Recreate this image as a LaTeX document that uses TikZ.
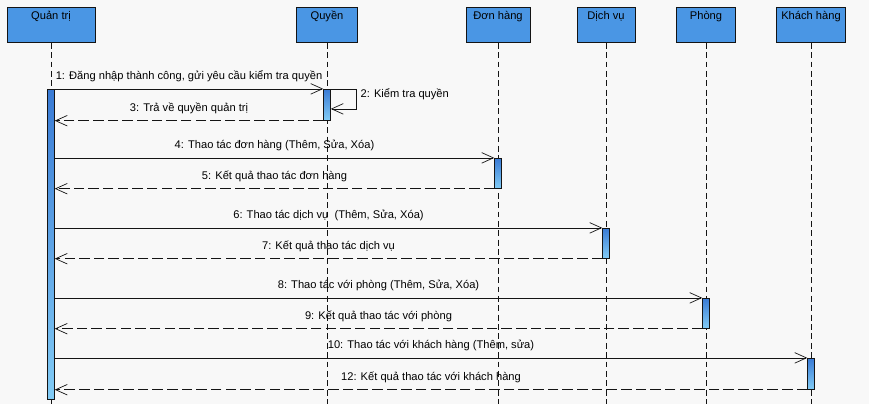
\documentclass[tikz,border=0pt]{standalone}
\usepackage{fontspec}
\setmainfont{Liberation Sans}
\usetikzlibrary{arrows.meta,positioning}

\definecolor{bgcol}{HTML}{F8F8F8}
\definecolor{headcol}{HTML}{4A96E4}
\definecolor{acttop}{HTML}{3A7BD5}
\definecolor{actbot}{HTML}{82CCF6}
\definecolor{linecol}{HTML}{141414}

\begin{document}
\begin{tikzpicture}[
    x=0.03cm, y=-0.03cm,
    font=\fontsize{9.5}{11}\selectfont,
    head/.style={rectangle, draw=linecol, line width=0.75pt, fill=headcol, minimum height=1.05cm, anchor=north, inner sep=0pt},
    headtxt/.style={anchor=north, inner sep=3.5pt},
    act/.style={rectangle, draw=linecol, line width=0.7pt, top color=acttop, bottom color=actbot, minimum width=0.2cm, minimum height=0.9cm, inner sep=0pt},
    life/.style={draw=linecol, line width=0.7pt, dash pattern=on 5pt off 3pt},
    msg/.style={draw=linecol, line width=0.6pt, -{Straight Barb[length=10pt, width=9pt]}},
    ret/.style={msg, dash pattern=on 9pt off 3.5pt},
    lbl/.style={midway, anchor=base, yshift=8pt, inner sep=0pt}
]
    % background and page size
    \fill[bgcol] (0,0) rectangle (869,404);
    \useasboundingbox (0,0) rectangle (869,404);
    \coordinate (bot) at (0,404);

    % lifeline heads
    \node[head, minimum width=2.64cm, label={[headtxt]north:Quản trị}] (qt) at (51,7) {};
    \node[head, minimum width=1.83cm, label={[headtxt]north:Quyền}] (quyen) at (327,7) {};
    \node[head, minimum width=1.92cm, label={[headtxt]north:Đơn hàng}] (donhang) at (498,7) {};
    \node[head, minimum width=1.74cm, label={[headtxt]north:Dịch vụ}] (dichvu) at (606,7) {};
    \node[head, minimum width=1.77cm, label={[headtxt]north:Phòng}] (phong) at (706,7) {};
    \node[head, minimum width=2.07cm, label={[headtxt]north:Khách hàng}] (khach) at (811,7) {};

    % lifelines
    \foreach \h in {qt, quyen, donhang, dichvu, phong, khach}
        \draw[life] (\h.south) -- (\h.south |- bot);

    % activation bars
    \node[act, minimum height=9.3cm, below=1.38cm of qt] (qtact) {};
    \node[act, minimum height=0.93cm, below=1.38cm of quyen] (quyenact) {};
    \node[act, below=3.45cm of donhang] (donhangact) {};
    \node[act, below=5.55cm of dichvu] (dichvuact) {};
    \node[act, below=7.65cm of phong] (phongact) {};
    \node[act, minimum height=0.93cm, below=9.45cm of khach] (khachact) {};

    % messages
    \draw[msg] (qtact.north east) -- (quyenact.north west)
        node[lbl] {1: Đăng nhập thành công, gửi yêu cầu kiểm tra quyền};
    \draw[msg] (quyenact.north east) -- ++(26,0) -- ++(0,20)
        node[pos=0.43, anchor=base west, xshift=3pt, inner sep=0pt] {2: Kiểm tra quyền} -- ++(-26,0);
    \draw[ret] (quyenact.south west) -- (qtact.east |- quyenact.south west)
        node[lbl] {3: Trả về quyền quản trị};

    \draw[msg] (qtact.east |- donhangact.north west) -- (donhangact.north west)
        node[lbl] {4: Thao tác đơn hàng (Thêm, Sửa, Xóa)};
    \draw[ret] (donhangact.south west) -- (qtact.east |- donhangact.south west)
        node[lbl] {5: Kết quả thao tác đơn hàng};

    \draw[msg] (qtact.east |- dichvuact.north west) -- (dichvuact.north west)
        node[lbl] {6: Thao tác dịch vụ\ \ (Thêm, Sửa, Xóa)};
    \draw[ret] (dichvuact.south west) -- (qtact.east |- dichvuact.south west)
        node[lbl] {7: Kết quả thao tác dịch vụ};

    \draw[msg] (qtact.east |- phongact.north west) -- (phongact.north west)
        node[lbl] {8: Thao tác với phòng (Thêm, Sửa, Xóa)};
    \draw[ret] (phongact.south west) -- (qtact.east |- phongact.south west)
        node[lbl] {9: Kết quả thao tác với phòng};

    \draw[msg] (qtact.east |- khachact.north west) -- (khachact.north west)
        node[lbl] {10: Thao tác với khách hàng (Thêm, sửa)};
    \draw[ret] (khachact.south west) -- (qtact.east |- khachact.south west)
        node[lbl] {12: Kết quả thao tác với khách hàng};
\end{tikzpicture}
\end{document}
